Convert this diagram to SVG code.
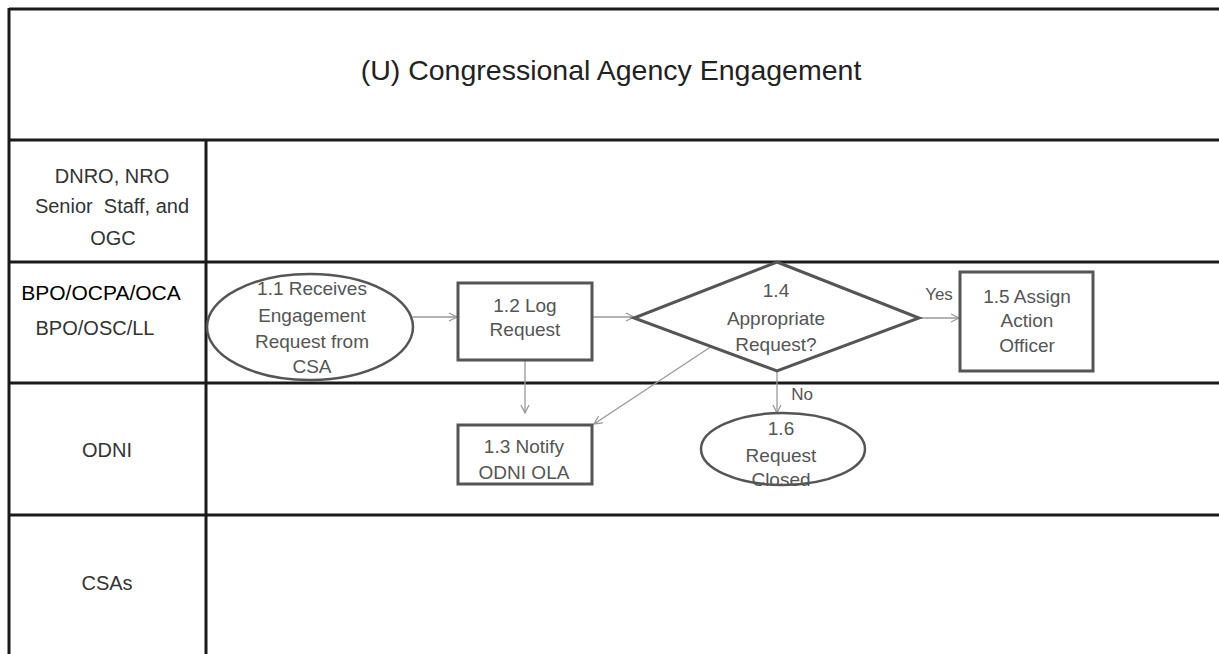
<svg xmlns="http://www.w3.org/2000/svg" width="1219" height="654" viewBox="0 0 1219 654">
<defs>
<style>
.lane{stroke:#1a1a1a;stroke-width:3;fill:none}
.box{fill:#fff;stroke:#555;stroke-width:3}
.oval{fill:#fff;stroke:#555;stroke-width:2.5}
.t{font-family:"Liberation Sans",Arial,sans-serif;fill:#555;font-size:19px;text-anchor:middle}
.lbl{font-family:"Liberation Sans",Arial,sans-serif;fill:#333;font-size:20px;text-anchor:middle}
.con{stroke:#999;stroke-width:1.3;fill:none;marker-end:url(#arr)}
</style>
<marker id="arr" markerWidth="10" markerHeight="10" refX="9" refY="5" orient="auto" markerUnits="userSpaceOnUse">
<path d="M1,1 L9,5 L1,9" fill="none" stroke="#999" stroke-width="1.3"/>
</marker>
</defs>
<rect width="1219" height="654" fill="#fff"/>
<g id="lanes">
<line class="lane" x1="9" y1="8" x2="9" y2="654"/>
<line class="lane" x1="9" y1="9" x2="1219" y2="9"/>
<line class="lane" x1="9" y1="140" x2="1219" y2="140"/>
<line class="lane" x1="9" y1="262" x2="1219" y2="262"/>
<line class="lane" x1="9" y1="383" x2="1219" y2="383"/>
<line class="lane" x1="9" y1="515" x2="1219" y2="515"/>
<line class="lane" x1="206" y1="140" x2="206" y2="654"/>
</g>
<g id="title">
<text x="611" y="80" font-family="'Liberation Sans',Arial,sans-serif" font-size="28.5" fill="#222" text-anchor="middle">(U) Congressional Agency Engagement</text>
</g>
<g id="lane-labels">
<text class="lbl" x="112" y="183">DNRO, NRO</text>
<text class="lbl" x="112" y="213" xml:space="preserve">Senior  Staff, and</text>
<text class="lbl" x="113" y="245">OGC</text>
<text x="101" y="300" font-family="'Liberation Sans',Arial,sans-serif" font-size="21" fill="#000" text-anchor="middle">BPO/OCPA/OCA</text>
<text class="lbl" x="95" y="335">BPO/OSC/LL</text>
<text class="lbl" x="107" y="457">ODNI</text>
<text class="lbl" x="107" y="590">CSAs</text>
</g>
<g id="connectors">
<path class="con" d="M413,317 H457"/>
<path class="con" d="M592,317 H634"/>
<path class="con" d="M525,360 V413"/>
<path class="con" d="M712,346 L594,424"/>
<path class="con" d="M919,318 H959"/>
<path class="con" d="M777,371 V413"/>
<text x="939" y="300" font-family="'Liberation Sans',Arial,sans-serif" font-size="17" fill="#555" text-anchor="middle">Yes</text>
<text x="802" y="400" font-family="'Liberation Sans',Arial,sans-serif" font-size="17" fill="#555" text-anchor="middle">No</text>
</g>
<g id="n1-1">
<ellipse class="oval" cx="310" cy="327" rx="103" ry="53"/>
<text class="t" x="312" y="295">1.1 Receives</text>
<text class="t" x="312" y="322">Engagement</text>
<text class="t" x="312" y="348">Request from</text>
<text class="t" x="312" y="373">CSA</text>
</g>
<g id="n1-2">
<rect class="box" x="458" y="283" width="134" height="77"/>
<text class="t" x="525" y="312">1.2 Log</text>
<text class="t" x="525" y="336">Request</text>
</g>
<g id="n1-3">
<rect class="box" x="458" y="425" width="134" height="59"/>
<text class="t" x="524" y="453">1.3 Notify</text>
<text class="t" x="524" y="479">ODNI OLA</text>
</g>
<g id="n1-4">
<polygon class="box" points="777,262 919,318 777,371 634,318"/>
<text class="t" x="776" y="297">1.4</text>
<text class="t" x="776" y="325">Appropriate</text>
<text class="t" x="776" y="351">Request?</text>
</g>
<g id="n1-5">
<rect class="box" x="960" y="272" width="133" height="99"/>
<text class="t" x="1027" y="303">1.5 Assign</text>
<text class="t" x="1027" y="327">Action</text>
<text class="t" x="1027" y="352">Officer</text>
</g>
<g id="n1-6">
<ellipse class="oval" cx="783" cy="449" rx="82" ry="36"/>
<text class="t" x="781" y="435">1.6</text>
<text class="t" x="781" y="462">Request</text>
<text class="t" x="781" y="486">Closed</text>
</g>
</svg>
